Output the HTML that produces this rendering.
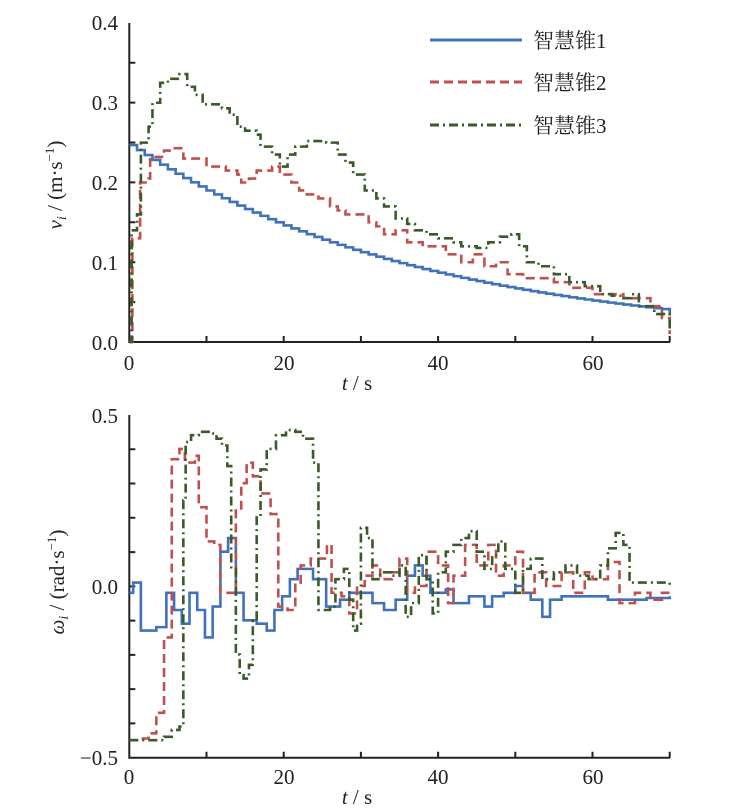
<!DOCTYPE html>
<html><head><meta charset="utf-8"><style>
html,body{margin:0;padding:0;background:#fff;}
svg{display:block;font-family:"Liberation Serif","Noto Serif CJK SC",serif;}
</style></head><body>
<svg id="s" width="737" height="808" viewBox="0 0 737 808" xmlns="http://www.w3.org/2000/svg">
<g fill="#222" font-size="21">
<text x="118" y="30" text-anchor="end">0.4</text>
<text x="118" y="110" text-anchor="end">0.3</text>
<text x="118" y="190" text-anchor="end">0.2</text>
<text x="118" y="270" text-anchor="end">0.1</text>
<text x="118" y="350" text-anchor="end">0.0</text>
<text x="129" y="370" text-anchor="middle">0</text>
<text x="284" y="370" text-anchor="middle">20</text>
<text x="438" y="370" text-anchor="middle">40</text>
<text x="593" y="370" text-anchor="middle">60</text>
<text x="357" y="390" text-anchor="middle"><tspan font-style="italic">t</tspan> / s</text>
<text transform="translate(62,185) rotate(-90)" text-anchor="middle"><tspan font-style="italic">v</tspan><tspan font-style="italic" font-size="14" dy="4">i</tspan><tspan dy="-4"> / (m·s</tspan><tspan font-size="13" dy="-8">−1</tspan><tspan dy="8">)</tspan></text>
<text x="118" y="423" text-anchor="end">0.5</text>
<text x="118" y="594" text-anchor="end">0.0</text>
<text x="118" y="765" text-anchor="end">−0.5</text>
<text x="129" y="784" text-anchor="middle">0</text>
<text x="284" y="784" text-anchor="middle">20</text>
<text x="438" y="784" text-anchor="middle">40</text>
<text x="593" y="784" text-anchor="middle">60</text>
<text x="357" y="804" text-anchor="middle"><tspan font-style="italic">t</tspan> / s</text>
<text transform="translate(64,582) rotate(-90)" text-anchor="middle"><tspan font-style="italic">ω</tspan><tspan font-style="italic" font-size="14" dy="4">i</tspan><tspan dy="-4"> / (rad·s</tspan><tspan font-size="13" dy="-8">−1</tspan><tspan dy="8">)</tspan></text>
<text x="533" y="48">智慧锥1</text>
<text x="533" y="90">智慧锥2</text>
<text x="533" y="133">智慧锥3</text>
</g>
<g stroke-width="3" fill="none">
<line x1="430" y1="40" x2="522" y2="40" stroke="#3f72b9"/>
<line x1="430" y1="82" x2="522" y2="82" stroke="#c0504d" stroke-dasharray="9,5"/>
<line x1="430" y1="125" x2="522" y2="125" stroke="#3a5a26" stroke-dasharray="9,4,2,4"/>
</g>
<g id="ax" stroke="#222" stroke-width="2" fill="none"></g>
<g id="ser" fill="none" stroke-width="2.6"></g>
</svg>
<script>
var X0=129.3,XS=7.72;
function tx(t){return X0+t*XS;}
function ty1(v){return 342-v*797.5;}
function ty2(v){return 586-v*342.7;}
var ax=document.getElementById('ax'),ser=document.getElementById('ser');
var a='M129.3,23V342H670 M129.3,415V757.7H670';
for(var i=1;i<=7;i++){var x=tx(i*10);a+='M'+x+',342v-6 M'+x+',757.7v-6';}
for(var i=1;i<8;i++){var y=342-i*39.9;a+='M129.3,'+y+'h6';}
for(var i=1;i<10;i++){var y=415+i*34.27;a+='M129.3,'+y+'h6';}
var p=document.createElementNS('http://www.w3.org/2000/svg','path');p.setAttribute('d',a);ax.appendChild(p);
function step(pts,ty){var d='';for(var i=0;i<pts.length;i++){var x=tx(pts[i][0]),y=ty(pts[i][1]);if(i==0)d='M'+x+','+y;else{d+='H'+x+'V'+y;}}return d;}
function add(d,c,da){var e=document.createElementNS('http://www.w3.org/2000/svg','path');e.setAttribute('d',d);e.setAttribute('stroke',c);if(da)e.setAttribute('stroke-dasharray',da);ser.appendChild(e);}
var B='#3f72b9',R='#c0504d',G='#3a5a26',DR='9,5',DG='9,4,2,4';
var b=[];for(var t=0;t<=70;t+=1)b.push([t,0.245*Math.exp(-0.0265*t)+0.002]);b.push([70,0.035]);
add(step(b,ty1),B);
var r=[[0,0],[0.4,0.13],[1.2,0.13],[1.4,0.2],[2.5,0.205],[2.7,0.232],[4.5,0.24],[5.5,0.243],[7,0.23],[10,0.22],[12.5,0.215],[14,0.21],[14.5,0.2],[15.5,0.205],[16.5,0.215],[18.5,0.22],[19.5,0.21],[21,0.2],[22,0.19],[23,0.185],[24.5,0.18],[26,0.17],[27,0.165],[28,0.16],[30,0.16],[31,0.15],[32,0.145],[33,0.135],[34.5,0.14],[36,0.125],[38,0.12],[40,0.12],[41,0.11],[43,0.1],[44.5,0.11],[46,0.095],[47.5,0.1],[49,0.085],[51,0.08],[53,0.08],[55,0.075],[57,0.068],[60,0.06],[62,0.06],[64,0.055],[66,0.055],[67.5,0.045],[69,0.03],[70,0.01]];
add(step(r,ty1),R,DR);
var g=[[0,0],[0.3,0.14],[1,0.16],[1.5,0.25],[2.5,0.27],[3,0.3],[4,0.325],[5,0.33],[6.5,0.336],[7.5,0.32],[8.5,0.31],[9.5,0.298],[12,0.293],[13,0.285],[14,0.27],[15,0.265],[16.5,0.26],[17,0.245],[18.5,0.235],[19.5,0.22],[20.5,0.235],[21.5,0.245],[23,0.252],[25.5,0.25],[27,0.235],[28,0.225],[29,0.21],[30.5,0.19],[32,0.18],[33,0.17],[34.5,0.155],[36,0.148],[37,0.14],[38.5,0.135],[40,0.13],[42,0.125],[43,0.12],[45,0.118],[46.5,0.125],[48,0.132],[49.5,0.135],[50.5,0.12],[51.5,0.1],[53,0.095],[55,0.085],[57,0.075],[59,0.07],[61,0.06],[62.5,0.058],[64,0.055],[65,0.06],[66,0.045],[68,0.035],[70,0.015]];
add(step(g,ty1),G,DG);
var wb=[[0,-0.02],[0.5,0.01],[1.5,-0.13],[3.5,-0.12],[4.8,-0.02],[5.8,-0.07],[6.8,-0.11],[7.8,-0.02],[8.8,-0.07],[9.8,-0.15],[10.8,-0.06],[11.8,0.1],[12.8,0.14],[13.8,-0.02],[14.8,-0.1],[16.5,-0.11],[17.8,-0.13],[18.8,-0.07],[19.8,-0.03],[20.8,0.02],[21.8,0.05],[23.8,0.02],[25.5,-0.06],[27.3,-0.04],[28.5,-0.02],[30,-0.02],[31.5,-0.05],[33,-0.07],[34.5,-0.04],[36,0.03],[37,0.06],[38,0.03],[39,-0.02],[41,-0.01],[42,-0.05],[44,-0.03],[46,-0.06],[47,-0.03],[48.5,-0.02],[50,0.0],[51,-0.02],[52,-0.04],[53.5,-0.09],[54.5,-0.04],[56,-0.03],[58,-0.03],[62,-0.04],[65,-0.04],[67,-0.035],[70,-0.03]];
add(step(wb,ty2),B);
var wr=[[0,-0.45],[1.5,-0.445],[2.5,-0.43],[3.5,-0.37],[4.5,-0.15],[5.5,0.37],[6.5,0.4],[7.2,0.36],[8.5,0.38],[9,0.23],[10,0.13],[11,0.12],[11.8,-0.02],[12.8,-0.02],[13.8,0.22],[14.5,0.3],[15.2,0.36],[16,0.32],[17,0.27],[18.3,0.21],[19.3,-0.06],[20.5,-0.07],[21.5,0.01],[22.2,0.06],[23.5,0.08],[25,0.08],[25.6,0.12],[26.2,-0.02],[27.5,-0.03],[28.5,-0.08],[29.5,0.0],[30.5,0.03],[31.5,0.06],[32.5,0.02],[34,0.04],[35,0.08],[36,-0.02],[37,0.0],[38.5,0.1],[40,0.06],[41.3,-0.05],[42,0.03],[43.5,0.12],[45,0.06],[46.5,0.12],[47.5,0.03],[48.5,0.06],[50,0.1],[51,-0.02],[52.5,0.04],[54,0.0],[56,0.04],[57.5,-0.02],[59,0.04],[60,0.02],[62,0.07],[63.5,-0.05],[65.5,-0.02],[67.5,-0.04],[69,-0.02],[70,-0.02]];
add(step(wr,ty2),R,DR);
var wg=[[0,-0.45],[3,-0.45],[4.5,-0.44],[5.5,-0.42],[6.5,-0.41],[7,0.25],[7.3,0.42],[8,0.44],[9,0.45],[10.5,0.445],[11.3,0.43],[12,0.41],[12.7,0.35],[13.2,0.05],[13.8,-0.2],[14.3,-0.26],[14.8,-0.27],[15.5,-0.23],[16,-0.1],[16.5,0.2],[17,0.34],[17.8,0.4],[19,0.44],[20.3,0.455],[21.5,0.45],[22.5,0.43],[23.8,0.36],[24.5,-0.07],[26,-0.06],[26.7,0.02],[27.8,0.05],[28.5,-0.04],[29,-0.13],[29.5,-0.11],[30,0.17],[30.8,0.14],[31.5,0.02],[32.5,0.04],[34,0.03],[35,0.06],[35.8,-0.09],[36.5,-0.05],[37.5,0.09],[38.5,0.02],[39.3,-0.08],[40,0.04],[41,0.1],[42,0.12],[43,0.14],[44,0.16],[45,0.1],[46,0.05],[47,0.09],[47.8,0.13],[48.7,0.05],[50,-0.02],[51,0.05],[52,0.08],[53.5,0.02],[55,0.04],[56.5,0.06],[58,0.03],[59.5,0.02],[61,0.06],[62,0.11],[63,0.155],[64,0.12],[64.8,0.01],[67,0.01],[70,0.0]];
add(step(wg,ty2),G,DG);
</script>
</body></html>
